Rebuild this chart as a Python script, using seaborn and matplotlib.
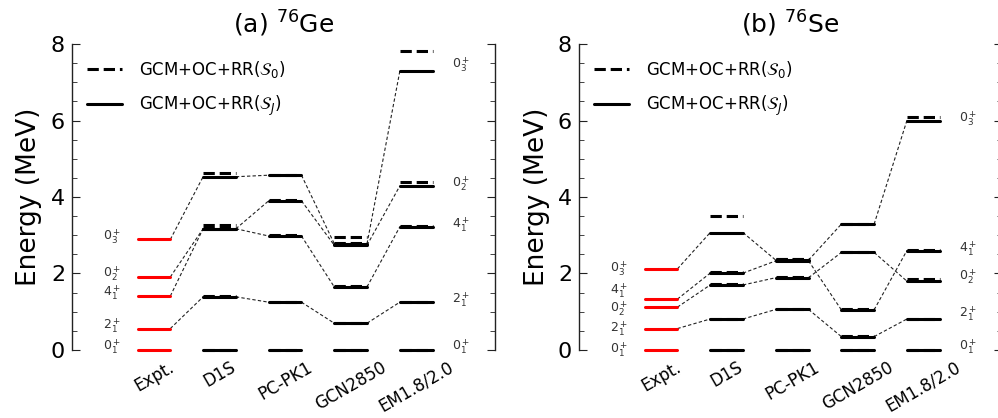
import numpy as np
import pandas as pd
import seaborn as sns
import matplotlib.pyplot as plt
from matplotlib.lines import Line2D
from matplotlib.ticker import MultipleLocator

# Column labels and state labels
models = ['Expt.', 'D1S', 'PC-PK1', 'GCN2850', 'EM1.8/2.0']
states = [r'$0_1^+$', r'$2_1^+$', r'$4_1^+$', r'$0_2^+$', r'$0_3^+$']

# 76Ge levels (MeV), state order: 0_1, 2_1, 4_1, 0_2, 0_3
ge_expt = [0.0, 0.56, 1.41, 1.91, 2.89]
ge_sj = [
    [0.0, 1.39, 3.17, 3.17, 4.53],   # D1S
    [0.0, 1.25, 2.98, 3.90, 4.57],   # PC-PK1
    [0.0, 0.70, 1.65, 2.74, 2.78],   # GCN2850
    [0.0, 1.25, 3.22, 4.29, 7.29],   # EM1.8/2.0
]
ge_s0 = [
    [0.0, 1.40, 3.20, 3.26, 4.62],
    [0.0, 1.26, 3.00, 3.91, 4.58],
    [0.0, 0.71, 1.67, 2.80, 2.96],
    [0.0, 1.26, 3.23, 4.38, 7.83],
]

# 76Se levels (MeV)
se_expt = [0.0, 0.56, 1.33, 1.12, 2.12]
se_sj = [
    [0.0, 0.81, 2.01, 1.70, 3.07],
    [0.0, 1.06, 2.33, 1.89, 2.35],
    [0.0, 0.35, 1.05, 2.55, 3.29],
    [0.0, 0.81, 2.60, 1.80, 6.00],
]
se_s0 = [
    [0.0, 0.82, 2.05, 1.72, 3.50],
    [0.0, 1.07, 2.37, 1.90, 2.38],
    [0.0, 0.36, 1.06, 2.56, 3.30],
    [0.0, 0.82, 2.61, 1.86, 6.10],
]

# where the state labels sit (layout, not data)
ge_left_lab = [0.09, 0.63, 1.49, 1.99, 2.97]
ge_right_lab = [0.08, 1.31, 3.28, 4.36, 7.45]
se_left_lab = [0.02, 0.57, 1.55, 1.07, 2.14]
se_right_lab = [0.08, 0.95, 2.65, 1.92, 6.05]

HALF = 0.25
LW = 2.2

sns.set_style('white')
plt.rcParams['font.family'] = ['DejaVu Sans']
plt.rcParams['text.color'] = 'black'
plt.rcParams['axes.labelcolor'] = 'black'
plt.rcParams['xtick.color'] = 'black'
plt.rcParams['ytick.color'] = 'black'


def bar_frame(columns, levels):
    rows = []
    seg = 0
    for c, lev in zip(columns, levels):
        for e in lev:
            rows.append((seg, c - HALF, e))
            rows.append((seg, c + HALF, e))
            seg += 1
    return pd.DataFrame(rows, columns=['seg', 'x', 'E'])


def link_frame(levels):
    rows = []
    seg = 0
    for k in range(1, len(states)):
        for c in range(len(levels) - 1):
            rows.append((seg, c + HALF, levels[c][k]))
            rows.append((seg, c + 1 - HALF, levels[c + 1][k]))
            seg += 1
    return pd.DataFrame(rows, columns=['seg', 'x', 'E'])


def draw_panel(ax, expt, sj, s0, title, left_lab, right_lab):
    cols = np.arange(len(models))
    solid = [expt] + sj

    sns.lineplot(data=link_frame(solid), x='x', y='E', units='seg', estimator=None,
                 sort=False, color='#222222', lw=0.8, linestyle=(0, (3, 2)),
                 ax=ax, legend=False, clip_on=False)
    sns.lineplot(data=bar_frame([0], [expt]), x='x', y='E', units='seg', estimator=None,
                 sort=False, color='red', lw=LW, ax=ax, legend=False, clip_on=False)
    sns.lineplot(data=bar_frame(cols[1:], sj), x='x', y='E', units='seg', estimator=None,
                 sort=False, color='black', lw=LW, ax=ax, legend=False, clip_on=False)
    sns.lineplot(data=bar_frame(cols[1:], s0), x='x', y='E', units='seg', estimator=None,
                 sort=False, color='black', lw=LW, linestyle='--', ax=ax,
                 legend=False, clip_on=False)

    for k, lab in enumerate(states):
        ax.text(-0.64, left_lab[k], lab, ha='center', va='center', fontsize=9,
                color='#333333')
        ax.text(4.55, right_lab[k], lab, ha='left', va='center', fontsize=9,
                color='#333333')

    ax.set_xlim(-1.25, 5.2)
    ax.set_ylim(0, 8)
    ax.set_xticks(cols)
    ax.set_xticklabels(models, rotation=30, fontsize=12)
    ax.tick_params(axis='x', length=0, pad=6)
    ax.yaxis.set_major_locator(MultipleLocator(2))
    ax.yaxis.set_minor_locator(MultipleLocator(0.5))
    ax.tick_params(axis='y', which='both', direction='in', left=True, right=True,
                   labelsize=16, pad=5, color='#222222')
    ax.tick_params(axis='y', which='major', length=6)
    ax.tick_params(axis='y', which='minor', length=3.5)
    for s in ['top', 'bottom']:
        ax.spines[s].set_visible(False)
    for s in ['left', 'right']:
        ax.spines[s].set_color('#222222')
        ax.spines[s].set_linewidth(1.0)
    ax.set_xlabel('')
    ax.set_ylabel('Energy (MeV)', fontsize=19, labelpad=6)
    ax.set_title(title, fontsize=18, pad=8)

    handles = [Line2D([], [], color='black', lw=LW, linestyle='--'),
               Line2D([], [], color='black', lw=LW)]
    labels = [r'GCM+OC+RR($\mathcal{S}_0$)', r'GCM+OC+RR($\mathcal{S}_J$)']
    ax.legend(handles, labels, loc='upper left', frameon=False, fontsize=12,
              handlelength=2.1, handletextpad=1.0, labelspacing=0.8)


fig = plt.figure(figsize=(9.98, 4.18), dpi=100)
ax1 = fig.add_axes([0.0721, 0.1627, 0.4238, 0.732])
ax2 = fig.add_axes([0.5802, 0.1627, 0.4238, 0.732])

draw_panel(ax1, ge_expt, ge_sj, ge_s0, r'(a) $^{76}$Ge', ge_left_lab, ge_right_lab)
draw_panel(ax2, se_expt, se_sj, se_s0, r'(b) $^{76}$Se', se_left_lab, se_right_lab)

fig.savefig('out.png', dpi=100)
plt.close()
